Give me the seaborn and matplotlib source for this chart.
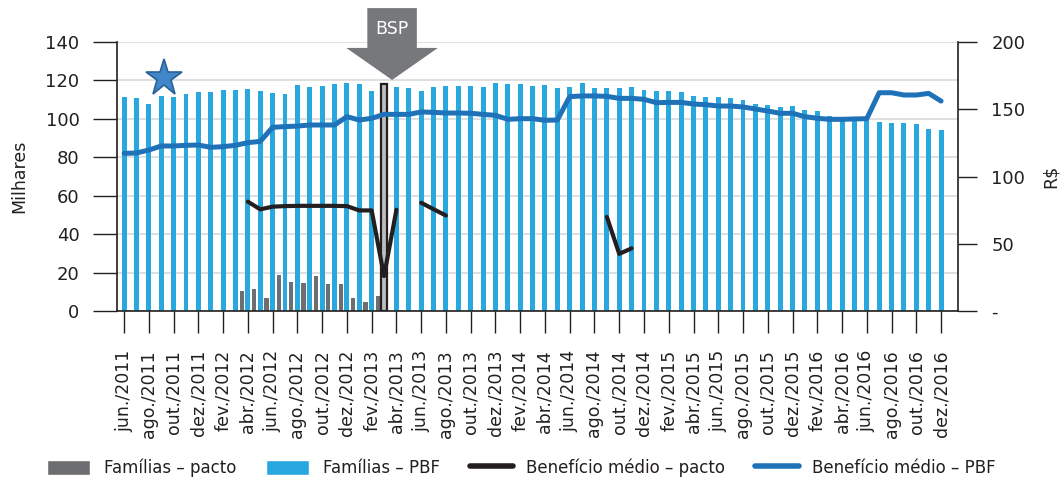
import numpy as np
import pandas as pd
import matplotlib
matplotlib.use("Agg")
import matplotlib.pyplot as plt
from matplotlib.patches import Patch, Polygon
from matplotlib.lines import Line2D
from matplotlib.transforms import blended_transform_factory
import seaborn as sns

# months jun/2011 .. dez/2016
abbr = ["jan.", "fev.", "mar.", "abr.", "mai.", "jun.",
        "jul.", "ago.", "set.", "out.", "nov.", "dez."]
months = [f"{abbr[m]}/{y}" for y in range(2011, 2017) for m in range(12)][5:]

# Famílias - PBF (milhares)
familias_pbf = [
    111.2, 110.7, 107.7, 111.7, 111.2, 113.1, 113.8, 113.8, 114.9, 115.2, 115.4,
    114.5, 113.3, 112.9, 117.6, 116.8, 117.1, 118.0, 118.5, 118.1, 114.5, 116.0,
    116.4, 115.9, 114.3, 116.8, 116.9, 117.1, 116.9, 116.4, 118.5, 118.0, 118.0, 116.9,
    117.6, 115.9, 116.6, 118.8, 116.1, 116.1, 115.9, 116.4, 114.8, 114.5, 114.3,
    114.2, 111.7, 111.4, 111.2, 110.7, 109.6, 107.7, 107.2, 106.0, 106.5, 104.6, 103.9,
    101.5, 101.0, 101.0, 100.5, 98.4, 97.7, 98.0, 97.5, 94.6, 94.2,
]

# Famílias - pacto (milhares), abr/2012 .. mar/2013
pacto_months = months[10:22]
familias_pacto = [10.2, 11.5, 6.6, 18.7, 15.1, 14.8, 18.2, 14.1, 13.9, 6.8, 4.9, 7.6]

# Benefício médio - PBF (R$)
beneficio_pbf = [
    117.2, 117.5, 119.7, 122.7, 122.7, 123.2, 123.4, 121.7, 122.2, 123.2, 125.2,
    126.1, 136.6, 137.1, 137.5, 138.3, 138.3, 138.3, 144.5, 142.0, 143.3, 146.2,
    146.2, 146.2, 148.0, 147.7, 147.2, 147.2, 147.0, 146.2, 145.5, 142.5, 143.0, 143.0,
    141.8, 142.0, 159.4, 159.9, 159.9, 159.6, 158.1, 158.1, 157.4, 154.9, 155.1,
    155.1, 153.9, 153.4, 152.4, 152.4, 151.7, 150.2, 148.7, 147.0, 147.0, 144.5, 143.3,
    142.5, 142.5, 142.8, 143.0, 162.3, 162.3, 160.6, 160.6, 161.8, 156.1,
]

# Benefício médio - pacto (R$), gaps where there is no value
nan = np.nan
beneficio_pacto = [nan] * 10 + [
    81.3, 75.6, 77.6, 78.0, 78.2, 78.2, 78.2, 78.2, 78.0, 74.8, 74.8, 26.0, 75.3,
    nan, 80.5, 75.7, 71.0] + [nan] * 12 + [70.0, 42.5, 46.6] + [nan] * 25

bsp_month = "mar./2013"
bsp_height = 118.2
star_pos = (3.25, 121.3)

BLUE_BAR = "#29a8e0"
GRAY_BAR = "#6d6e71"
BLUE_LINE = "#1f72b8"
BLACK = "#231f20"

sns.set_theme(style="white")
plt.rcParams["font.family"] = ["DejaVu Sans"]
plt.rcParams["font.size"] = 12

pos = {m: i for i, m in enumerate(months)}
df_pbf = pd.DataFrame({"x": range(len(months)), "v": familias_pbf})
df_pacto = pd.DataFrame({"x": [pos[m] - 0.5 for m in pacto_months], "v": familias_pacto})
df_lpbf = pd.DataFrame({"x": range(len(months)), "v": beneficio_pbf})
df_lpacto = pd.DataFrame({"x": range(len(months)), "v": beneficio_pacto})
df_lpacto["seg"] = df_lpacto["v"].isna().cumsum()
df_lpacto = df_lpacto.dropna()

fig = plt.figure(figsize=(10.64, 4.8), dpi=100)
ax = fig.add_axes([0.110, 0.352, 0.7904, 0.5605])

sns.barplot(data=df_pbf, x="x", y="v", native_scale=True, color=BLUE_BAR,
            width=0.4, saturation=1, linewidth=0, ax=ax, zorder=2)
sns.barplot(data=df_pacto, x="x", y="v", native_scale=True, color=GRAY_BAR,
            width=0.34, saturation=1, linewidth=0, ax=ax, zorder=2)
# BSP marker bar
ax.bar(pos[bsp_month], bsp_height, width=0.42, color="#bcbec0",
       edgecolor=BLACK, linewidth=1.6, zorder=3)
ax.plot(*star_pos, marker="*", markersize=28, color="#3f87c8",
        markeredgecolor="#2a6195", markeredgewidth=1.2, zorder=4, clip_on=False)

ax.set_xlim(-0.57, 67.37)
ax.set_ylim(0, 140)
ax.set_yticks(range(0, 141, 20))
ax.yaxis.grid(True, color="#d9d9d9", linewidth=1.2, zorder=0)
ax.set_axisbelow(True)
ax.set_xticks(range(0, len(months), 2))
ax.set_xticklabels(months[::2], rotation=90, color=BLACK, fontsize=12.5)
ax.set_xlabel("")
ax.set_ylabel("Milhares", color=BLACK, labelpad=12, fontsize=12.5)
ax.tick_params(axis="x", length=16, width=1, pad=12, colors=BLACK, bottom=True)
ax.tick_params(axis="y", length=17, width=1, pad=10, colors=BLACK, left=True,
               labelsize=13)
for s in ["top", "right"]:
    ax.spines[s].set_visible(False)
for s in ["left", "bottom"]:
    ax.spines[s].set_color(BLACK)
    ax.spines[s].set_linewidth(1.2)

ax2 = ax.twinx()
sns.lineplot(data=df_lpbf, x="x", y="v", color=BLUE_LINE, linewidth=3.6, ax=ax2)
sns.lineplot(data=df_lpacto, x="x", y="v", units="seg", estimator=None,
             color=BLACK, linewidth=3.0, ax=ax2)
ax2.set_ylim(0, 200)
ax2.set_yticks(range(0, 201, 50))
ax2.set_yticklabels(["-", "50", "100", "150", "200"], color=BLACK)
ax2.set_ylabel("R$", color=BLACK, labelpad=12, fontsize=12.5)
ax2.set_xlabel("")
ax2.tick_params(axis="y", length=14, width=1, pad=10, colors=BLACK, right=True,
                labelsize=13)
for s in ["top", "left", "bottom"]:
    ax2.spines[s].set_visible(False)
ax2.spines["right"].set_color(BLACK)
ax2.spines["right"].set_linewidth(1.2)
ax2.set_xlim(-0.57, 67.37)

# BSP arrow
tr = blended_transform_factory(ax.transData, ax.transAxes)
cx = pos[bsp_month] + 0.65
arrow = Polygon([(cx - 2.0, 1.126), (cx + 2.0, 1.126), (cx + 2.0, 0.978),
                 (cx + 3.7, 0.978), (cx, 0.859), (cx - 3.7, 0.978),
                 (cx - 2.0, 0.978)], closed=True, facecolor="#77787b",
                edgecolor="none", transform=tr, clip_on=False, zorder=5)
ax2.add_patch(arrow)
ax2.text(cx, 1.05, "BSP", color="white", ha="center", va="center",
         fontsize=12.5, transform=tr, zorder=6)

handles = [
    Patch(facecolor=GRAY_BAR, label="Famílias – pacto"),
    Patch(facecolor=BLUE_BAR, label="Famílias – PBF"),
    Line2D([], [], color=BLACK, linewidth=4, label="Benefício médio – pacto"),
    Line2D([], [], color=BLUE_LINE, linewidth=4, label="Benefício médio – PBF"),
]
fig.legend(handles=handles, loc="lower center", bbox_to_anchor=(0.49, -0.025),
           ncol=4, frameon=False, handlelength=2.6, handleheight=1.0,
           columnspacing=1.8, fontsize=12, labelcolor=BLACK)

fig.savefig("out.png", dpi=100)
